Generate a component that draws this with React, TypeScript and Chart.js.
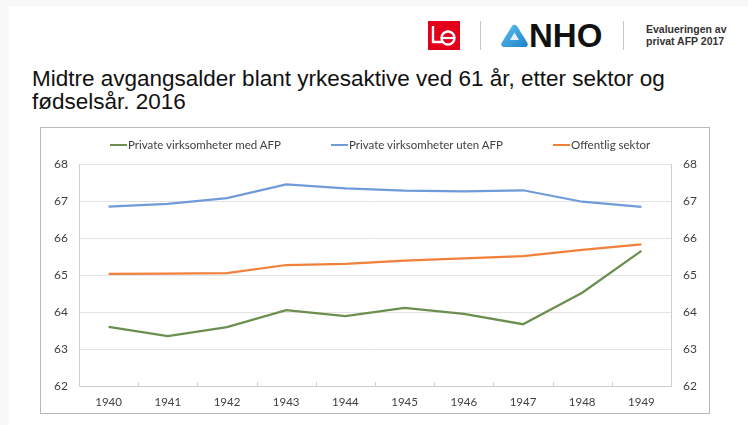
import React, { useEffect, useRef } from "react";
import { Chart, registerables } from "chart.js";

Chart.register(...registerables);

const years = ["1940", "1941", "1942", "1943", "1944", "1945", "1946", "1947", "1948", "1949"];
const medAFP = [63.6, 63.35, 63.59, 64.05, 63.89, 64.11, 63.95, 63.67, 64.52, 65.65];
const utenAFP = [66.85, 66.92, 67.08, 67.45, 67.34, 67.28, 67.26, 67.29, 66.98, 66.84];
const offentlig = [65.03, 65.04, 65.05, 65.27, 65.3, 65.39, 65.45, 65.51, 65.68, 65.83];
const seriesNames = ["Private virksomheter med AFP", "Private virksomheter uten AFP", "Offentlig sektor"];
const seriesColors = ["#6B8F4E", "#6F9BD8", "#F0803A"];
const yMin = 62;
const yMax = 68;

const FONT = "Lato, 'Open Sans', sans-serif";

const innerTicks = {
  id: "innerTicks",
  afterDraw(chart: any) {
    const x = chart.scales.x;
    const ctx = chart.ctx;
    const bottom = chart.chartArea.bottom;
    ctx.save();
    ctx.strokeStyle = "#d0d0d0";
    ctx.lineWidth = 1;
    for (let i = 1; i < years.length; i++) {
      const px = Math.round((x.getPixelForTick(i - 1) + x.getPixelForTick(i)) / 2) + 0.5;
      ctx.beginPath();
      ctx.moveTo(px, bottom - 4);
      ctx.lineTo(px, bottom);
      ctx.stroke();
    }
    ctx.restore();
  },
};

export default function App() {
  const ref = useRef<HTMLCanvasElement>(null);
  useEffect(() => {
    if (!ref.current) return;
    const data = [medAFP, utenAFP, offentlig];
    const chart = new Chart(ref.current, {
      type: "line",
      data: {
        labels: years,
        datasets: data.map((d, i) => ({
          label: seriesNames[i],
          data: d,
          borderColor: seriesColors[i],
          backgroundColor: seriesColors[i],
          borderWidth: 2.25,
          pointRadius: 0,
          tension: 0,
          fill: false,
        })),
      },
      options: {
        animation: false,
        responsive: false,
        layout: { padding: { top: 36, left: 0, right: 0, bottom: 0 } },
        plugins: { legend: { display: false }, tooltip: { enabled: false } },
        scales: {
          x: {
            type: "category",
            offset: true,
            grid: { display: false, drawTicks: false },
            border: { display: true, color: "#d0d0d0", width: 1 },
            ticks: { color: "#404040", font: { family: FONT, size: 11.5 }, padding: 9, maxRotation: 0 },
            afterFit: (s: any) => {
              s.height = 27;
            },
          },
          y: {
            position: "left",
            min: yMin,
            max: yMax,
            grid: { color: "#e3e3e3", drawTicks: false },
            border: { display: true, color: "#d0d0d0" },
            ticks: { stepSize: 1, color: "#404040", font: { family: FONT, size: 12 }, padding: 11 },
            afterFit: (s: any) => {
              s.width = 38;
            },
          },
          y2: {
            position: "right",
            min: yMin,
            max: yMax,
            grid: { display: false, drawTicks: false },
            border: { display: true, color: "#d0d0d0" },
            ticks: { stepSize: 1, color: "#404040", font: { family: FONT, size: 12 }, padding: 12 },
            afterFit: (s: any) => {
              s.width = 38;
            },
          },
        },
      },
      plugins: [innerTicks],
    });
    return () => chart.destroy();
  }, []);

  const legendPos = [
    { line: 110, text: 128 },
    { line: 331, text: 349 },
    { line: 553, text: 571 },
  ];

  return (
    <div style={{ position: "absolute", left: 0, top: 0, width: 748, height: 425, background: "#f8f8f8", overflow: "hidden" }}>
      <div style={{ position: "absolute", left: 9, top: 6, width: 739, height: 419, background: "#ffffff" }} />
      {/* Logos */}
      <svg style={{ position: "absolute", left: 428, top: 21 }} width={32} height={29} viewBox="0 0 32 29">
        <rect x={0} y={0} width={32} height={29} fill="#e2001a" />
        <path d="M5 5 L5 21 L14 21" stroke="#fff" strokeWidth={2.4} fill="none" />
        <circle cx={20} cy={17} r={6.5} stroke="#fff" strokeWidth={2.4} fill="none" />
        <path d="M14 17 L26.5 17" stroke="#fff" strokeWidth={2.2} />
      </svg>
      <div style={{ position: "absolute", left: 480, top: 21, width: 1, height: 29, background: "#c8c8c8" }} />
      <svg style={{ position: "absolute", left: 500, top: 24 }} width={29} height={24} viewBox="0 0 29 24">
        <defs>
          <linearGradient id="nhoG" x1="0" y1="0" x2="1" y2="1">
            <stop offset="0" stopColor="#5ec3ee" />
            <stop offset="1" stopColor="#1f7fc9" />
          </linearGradient>
        </defs>
        <path d="M12 2 Q14.5 -0.5 17 2 L27.5 19 Q28.5 23 25 23 L4 23 Q0.5 23 1.5 19 Z" fill="url(#nhoG)" />
        <path d="M10 16 L19 16 L14.5 8.5 Z" fill="#ffffff" opacity={0.85} />
      </svg>
      <div style={{ position: "absolute", left: 529, top: 18, fontFamily: "'Liberation Sans', Arial, sans-serif", fontWeight: 700, fontSize: 33, color: "#111", lineHeight: "36px" }}>NHO</div>
      <div style={{ position: "absolute", left: 623, top: 21, width: 1, height: 29, background: "#c8c8c8" }} />
      <div style={{ position: "absolute", left: 646, top: 23, fontFamily: "'Liberation Sans', Arial, sans-serif", fontWeight: 700, fontSize: 10.5, color: "#333", lineHeight: "12px" }}>
        Evalueringen av
        <br />
        privat AFP 2017
      </div>
      {/* Title */}
      <div style={{ position: "absolute", left: 32, top: 67, width: 710, fontFamily: "'Liberation Sans', Arial, sans-serif", fontSize: 22.5, color: "#111", lineHeight: "23px", whiteSpace: "nowrap" }}>
        Midtre avgangsalder blant yrkesaktive ved 61 år, etter sektor og
        <br />
        fødselsår. 2016
      </div>
      {/* Chart box */}
      <div style={{ position: "absolute", left: 40, top: 127, width: 668, height: 285, border: "1px solid #b8b8b8", background: "#fff" }}>
        <canvas ref={ref} width={668} height={285} style={{ display: "block" }} />
      </div>
      {/* Legend */}
      {seriesNames.map((n, i) => (
        <React.Fragment key={n}>
          <div style={{ position: "absolute", left: legendPos[i].line, top: 144, width: 17, height: 2, background: seriesColors[i] }} />
          <div style={{ position: "absolute", left: legendPos[i].text, top: 137, fontFamily: FONT, fontSize: 11.5, color: "#404040", lineHeight: "16px", whiteSpace: "nowrap" }}>{n}</div>
        </React.Fragment>
      ))}
    </div>
  );
}
